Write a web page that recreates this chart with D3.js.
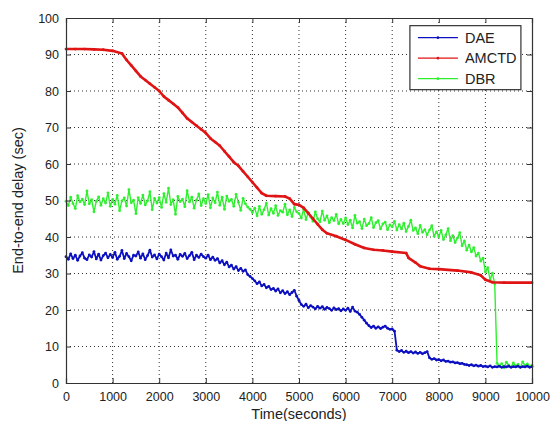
<!DOCTYPE html>
<html lang="en">
<head>
<meta charset="UTF-8">
<title>End-to-end delay</title>
<script src="https://d3js.org/d3.v7.min.js"></script>
<style>
  body { margin: 0; background: #fff; }
  svg text { font-family: Arial, "Liberation Sans", sans-serif; fill: #222; }
</style>
</head>
<body>
<svg id="chart" width="553" height="421"></svg>
<script>
    // time samples for the noisy series: every 50 s from 0 to 10000
    const timeSteps = d3.range(0, 10001, 50);

    const daeValues = [
        34.6, 33.9, 35.4, 34.1, 35.0, 33.6, 34.8, 35.7, 34.2, 33.8, 35.1, 34.5, 36.0, 34.0, 35.3, 33.7, 34.9, 35.6, 34.3, 35.2,
        34.4, 35.8, 33.9, 34.7, 36.3, 34.1, 35.5, 34.6, 33.5, 35.0, 34.8, 35.9, 34.2, 35.4, 33.8, 34.9, 36.4, 34.5, 35.1, 34.0,
        35.3, 34.6, 33.7, 35.6, 34.3, 36.5, 34.8, 35.0, 33.9, 35.2, 34.7, 35.5, 34.1, 34.9, 35.8, 33.8, 35.0, 34.4, 35.3, 34.6,
        34.2, 35.0, 33.8, 34.5, 33.6, 34.1, 32.9, 33.5, 32.4, 33.1, 31.8, 32.3, 31.2, 31.9, 30.8, 31.4, 30.6, 31.0, 29.7, 29.2,
        28.6, 28.0, 27.2, 27.7, 26.6, 27.0, 26.1, 26.5, 25.6, 25.9, 25.2, 25.8, 24.7, 25.3, 24.5, 25.0, 24.2, 24.8, 25.4, 23.8,
        22.6, 21.5, 21.0, 21.6, 20.6, 21.2, 20.8, 20.3, 21.0, 20.5, 20.9, 20.2, 20.7, 20.4, 19.9, 20.6, 20.1, 20.4, 19.8, 20.3,
        19.9, 20.5, 19.6, 20.8, 19.7, 19.4, 18.8, 18.0, 17.2, 16.4, 15.7, 15.2, 15.6, 15.0, 15.4, 14.9, 15.3, 15.6, 15.0, 14.7,
        14.8, 14.2, 9.0, 8.6, 8.9, 8.4, 8.7, 8.3, 8.6, 8.2, 8.5, 8.1, 8.4, 8.0, 8.3, 8.6, 6.9, 6.5, 6.7, 6.3,
        6.4, 6.1, 6.3, 5.9, 6.0, 5.7, 5.8, 5.5, 5.6, 5.3, 5.4, 5.1, 5.0, 4.8, 5.0, 4.7, 4.9, 4.6, 4.8, 4.5,
        4.6, 4.4, 4.7, 4.3, 4.5, 4.4, 4.6, 4.3, 4.5, 4.4, 4.6, 4.3, 4.5, 4.4, 4.6, 4.3, 4.5, 4.4, 4.6, 4.3,
        4.5
    ];

    const dbrValues = [
        49.8, 48.6, 50.9, 49.2, 47.8, 51.3, 49.6, 50.4, 48.9, 52.6, 49.1, 50.2, 46.9, 49.8, 51.0, 48.7, 50.5, 49.3, 52.1, 48.4,
        50.3, 49.0, 51.4, 47.2, 49.9, 50.7, 48.5, 53.0, 49.4, 50.1, 46.4, 50.8, 49.2, 51.5, 48.8, 49.9, 52.4, 47.5, 50.6, 49.3,
        50.8, 48.1, 51.9, 49.5, 53.4, 48.9, 50.2, 46.2, 51.1, 49.7, 50.4, 48.3, 52.7, 49.6, 50.9, 47.9, 50.1, 51.8, 48.6, 50.5,
        49.2, 51.6, 48.0, 50.7, 49.4, 52.3, 48.7, 50.9, 47.6, 51.2, 49.8, 50.3, 48.4, 51.7, 49.5, 47.3, 50.6, 49.1, 48.2, 47.6,
        46.7, 47.9, 45.8, 48.4, 46.2, 47.5, 49.3, 46.0, 47.8, 46.5, 48.6, 45.9, 47.2, 46.8, 49.0, 46.1, 47.4, 45.6, 48.1, 46.9,
        46.4, 45.2, 47.6, 44.8, 46.7, 45.5, 44.3, 46.9, 45.0, 44.2, 47.1, 44.6, 45.8, 43.9, 45.3, 44.5, 46.2, 43.6, 44.8, 43.7,
        45.2, 43.4, 44.6, 42.5, 45.9, 43.8, 44.2, 42.3, 44.9, 43.1, 43.7, 45.3, 42.6, 43.9, 44.5, 42.2, 43.6, 44.1, 42.0, 43.3,
        42.8, 44.3, 41.9, 43.4, 42.2, 43.8, 41.5, 42.9, 44.6, 41.8, 42.5, 40.9, 43.2, 41.3, 42.0, 40.6, 41.9, 43.1, 40.2, 41.4,
        40.1, 41.8, 39.3, 40.6, 42.3, 39.0, 40.4, 38.5, 39.7, 41.2, 37.6, 38.9, 36.4, 37.8, 35.9, 37.1, 34.8, 35.6, 33.4, 34.2,
        30.4, 31.6, 28.3, 30.1, 27.2, 5.4, 4.6, 5.3, 4.2, 5.7, 4.9, 4.4, 5.5, 4.7, 5.1, 4.3, 5.8, 4.8, 5.2, 4.6,
        4.9
    ];

    // AMCTD is a stepped decline, sampled where it changes
    const amctdTimes = [0, 200, 400, 600, 800, 1000, 1200, 1300, 1400, 1500, 1600, 1700, 1800, 1900, 2000,
        2100, 2200, 2300, 2400, 2500, 2600, 2700, 2800, 2900, 3000, 3100, 3200, 3300, 3400, 3500,
        3600, 3700, 3800, 3900, 4000, 4100, 4200, 4300, 4500, 4700, 4800, 4900, 5000, 5100, 5200,
        5300, 5400, 5500, 5600, 5800, 6000, 6200, 6400, 6600, 6800, 7000, 7300, 7350, 7500, 7600,
        7800, 8000, 8400, 8700, 8900, 9000, 9150, 9400, 10000];
    const amctdValues = [91.5, 91.5, 91.5, 91.4, 91.3, 91.0, 90.3, 88.5, 87.0, 85.5, 84.0, 83.0, 82.0, 81.0, 80.0,
        78.5, 77.5, 76.5, 75.5, 74.0, 72.5, 71.5, 70.5, 69.5, 68.5, 67.0, 66.0, 65.0, 63.5, 62.0,
        60.5, 59.5, 58.0, 56.5, 55.0, 53.5, 52.0, 51.3, 51.2, 51.1, 50.5, 49.0, 48.8, 48.0, 46.5,
        45.0, 43.5, 42.0, 41.0, 40.2, 39.2, 38.0, 37.0, 36.5, 36.3, 36.0, 35.6, 34.3, 33.0, 32.0,
        31.3, 31.2, 30.8, 30.3, 29.5, 28.3, 27.6, 27.5, 27.5];

    const xTicks = d3.range(0, 10001, 1000);
    const yTicks = d3.range(0, 101, 10);
    const seriesNames = ["DAE", "AMCTD", "DBR"];
    const seriesColors = ["#0c10c0", "#e01414", "#2ef02e"];

    const margin = {left: 66, right: 21, top: 18, bottom: 38};
    const svg = d3.select("#chart");
    const W = +svg.attr("width"), H = +svg.attr("height");
    const iw = W - margin.left - margin.right;
    const ih = H - margin.top - margin.bottom;

    const x = d3.scaleLinear().domain([0, 10000]).range([0, iw]);
    const y = d3.scaleLinear().domain([0, 100]).range([ih, 0]);

    const g = svg.append("g").attr("transform", `translate(${margin.left},${margin.top})`);

    // dotted grid
    g.append("g").selectAll("line").data(xTicks.slice(1, -1)).join("line")
        .attr("x1", d => x(d)).attr("x2", d => x(d))
        .attr("y1", 0).attr("y2", ih)
        .attr("stroke", "#333").attr("stroke-width", 1).attr("stroke-dasharray", "1,3");
    g.append("g").selectAll("line").data(yTicks.slice(1, -1)).join("line")
        .attr("x1", 0).attr("x2", iw)
        .attr("y1", d => y(d)).attr("y2", d => y(d))
        .attr("stroke", "#333").attr("stroke-width", 1).attr("stroke-dasharray", "1,3");

    const line = d3.line().x(d => x(d[0])).y(d => y(d[1]));

    const series = [
        timeSteps.map((t, i) => [t, daeValues[i]]),
        amctdTimes.map((t, i) => [t, amctdValues[i]]),
        timeSteps.map((t, i) => [t, dbrValues[i]])
    ];

    // draw DBR first, then AMCTD, then DAE on top (like the original)
    [2, 1, 0].forEach(k => {
        g.append("path").datum(series[k])
            .attr("fill", "none")
            .attr("stroke", seriesColors[k])
            .attr("stroke-width", k === 1 ? 2.6 : (k === 0 ? 1.8 : 1.4))
            .attr("stroke-linejoin", "round")
            .attr("d", line);
        g.append("g").selectAll("circle").data(series[k]).join("circle")
            .attr("cx", d => x(d[0])).attr("cy", d => y(d[1]))
            .attr("r", 1.4).attr("fill", seriesColors[k]);
    });

    // axes with inward ticks on all four sides
    const fmt = d3.format("d");
    const axB = g.append("g").attr("transform", `translate(0,${ih})`)
        .call(d3.axisBottom(x).tickValues(xTicks).tickSize(-5).tickPadding(9).tickFormat(fmt));
    const axL = g.append("g")
        .call(d3.axisLeft(y).tickValues(yTicks).tickSize(-5).tickPadding(7).tickFormat(fmt));
    const axT = g.append("g")
        .call(d3.axisTop(x).tickValues(xTicks).tickSize(-5).tickFormat(""));
    const axR = g.append("g").attr("transform", `translate(${iw},0)`)
        .call(d3.axisRight(y).tickValues(yTicks).tickSize(-5).tickFormat(""));
    [axB, axL, axT, axR].forEach(a => {
        a.select(".domain").attr("stroke", "#333").attr("stroke-width", 1.2);
        a.selectAll(".tick line").attr("stroke", "#333");
        a.selectAll("text").attr("font-size", 12.5).attr("fill", "#222")
            .attr("font-family", "Arial, 'Liberation Sans', sans-serif");
    });

    // axis titles
    svg.append("text")
        .attr("x", margin.left + iw / 2).attr("y", 419)
        .attr("text-anchor", "middle").attr("font-size", 14.5)
        .text("Time(seconds)");
    svg.append("text")
        .attr("transform", `translate(23,${margin.top + ih / 2}) rotate(-90)`)
        .attr("text-anchor", "middle").attr("font-size", 14.5)
        .text("End-to-end delay (sec)");

    // legend
    const lg = g.append("g").attr("transform", `translate(${x(7380)},${y(97.9)})`);
    lg.append("rect").attr("width", 111).attr("height", 64)
        .attr("fill", "#fff").attr("stroke", "#333").attr("stroke-width", 1.2);
    seriesNames.forEach((name, i) => {
        const ry = 12 + i * 20.5;
        lg.append("line").attr("x1", 8).attr("x2", 48).attr("y1", ry).attr("y2", ry)
            .attr("stroke", seriesColors[i]).attr("stroke-width", 1.2);
        lg.append("circle").attr("cx", 28).attr("cy", ry).attr("r", 1.3).attr("fill", seriesColors[i]);
        lg.append("text").attr("x", 55).attr("y", ry + 5).attr("font-size", 14.5).text(name);
    });
</script>
</body>
</html>
